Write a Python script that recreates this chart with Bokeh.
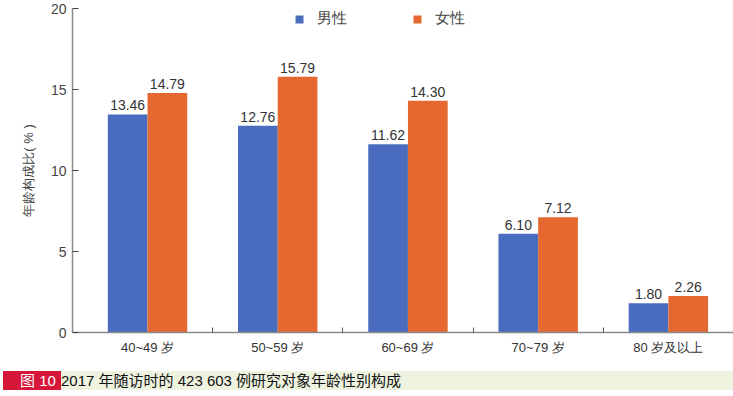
from bokeh.plotting import figure
from bokeh.models import ColumnDataSource, FixedTicker, Range1d, Legend, LegendItem, Div, LabelSet
from bokeh.core.properties import value
from bokeh.layouts import column
from bokeh.embed import file_html
from bokeh.resources import INLINE

categories = ["40~49 岁", "50~59 岁", "60~69 岁", "70~79 岁", "80 岁及以上"]
male = [13.46, 12.76, 11.62, 6.10, 1.80]
female = [14.79, 15.79, 14.30, 7.12, 2.26]
series_names = ["男性", "女性"]
y_ticks = [0, 5, 10, 15, 20]

BLUE = "#4A6CBE"
ORANGE = "#E4682F"
FONT = "Liberation Sans"

centers = [i + 0.5 for i in range(len(categories))]
bw = 0.305
src_m = ColumnDataSource(dict(x=[c - bw / 2 for c in centers], top=male,
                              lab=["%.2f" % v for v in male]))
src_f = ColumnDataSource(dict(x=[c + bw / 2 for c in centers], top=female,
                              lab=["%.2f" % v for v in female]))

p = figure(width=733, height=371, output_backend="svg", toolbar_location=None,
           x_range=Range1d(-0.076, 5.0), y_range=Range1d(0, 20),
           min_border_left=72, min_border_right=0, min_border_top=8, min_border_bottom=39)
p.outline_line_color = None
p.xgrid.visible = False
p.ygrid.visible = False
p.background_fill_color = "white"

rm = p.vbar(x="x", top="top", width=bw, source=src_m, fill_color=BLUE, line_color=None)
rf = p.vbar(x="x", top="top", width=bw, source=src_f, fill_color=ORANGE, line_color=None)

for s in (src_m, src_f):
    p.add_layout(LabelSet(x="x", y="top", text="lab", source=s, text_align="center",
                          text_baseline="bottom", y_offset=4, text_font_size=value("14px"),
                          text_color="#333333", text_font=value(FONT)))

# x axis
p.xaxis.ticker = FixedTicker(ticks=centers, minor_ticks=[1, 2, 3, 4])
p.xaxis.major_label_overrides = {c: categories[i] for i, c in enumerate(centers)}
p.xaxis.major_tick_line_color = None
p.xaxis.major_tick_in = 0
p.xaxis.major_tick_out = 0
p.xaxis.minor_tick_in = 5
p.xaxis.minor_tick_out = 0
p.xaxis.minor_tick_line_color = "#555555"
p.xaxis.axis_line_color = "#8a8a8a"
p.xaxis.axis_line_width = 1.5
p.xaxis.major_label_text_font_size = "13px"
p.xaxis.major_label_text_color = "#333333"
p.xaxis.major_label_text_font = FONT
p.xaxis.major_label_standoff = 7

# y axis
p.yaxis.ticker = FixedTicker(ticks=y_ticks, minor_ticks=[])
p.yaxis.major_tick_in = 6
p.yaxis.major_tick_out = 0
p.yaxis.major_tick_line_color = "#444444"
p.yaxis.minor_tick_line_color = None
p.yaxis.axis_line_color = "#8a8a8a"
p.yaxis.axis_line_width = 1.5
p.yaxis.major_label_text_font_size = "14px"
p.yaxis.major_label_text_color = "#444444"
p.yaxis.major_label_text_font = FONT
p.yaxis.major_label_standoff = 6
p.yaxis.axis_label = "年龄构成比( % )"
p.yaxis.axis_label_text_font_style = "normal"
p.yaxis.axis_label_text_font_size = "13px"
p.yaxis.axis_label_text_color = "#444444"
p.yaxis.axis_label_text_font = FONT
p.yaxis.axis_label_standoff = 12

legend = Legend(items=[LegendItem(label=series_names[0], renderers=[rm]),
                       LegendItem(label=series_names[1], renderers=[rf])],
                orientation="horizontal", location=(222, 304),
                border_line_color=None, background_fill_alpha=0,
                glyph_width=10, glyph_height=10, label_standoff=13, spacing=65,
                padding=0, margin=0, label_text_font_size="15px",
                label_text_color="#444444", label_text_font=FONT)
p.add_layout(legend)

caption = Div(width=733, height=20, margin=(0, 0, 0, 0), text=(
    '<div style="margin-left:3px;width:730px;height:19px;background:#EEF3E0;'
    'font-family:\'Liberation Sans\',\'Noto Sans CJK SC\';font-size:15px;line-height:19px;'
    'color:#111;white-space:nowrap;">'
    '<span style="display:inline-block;box-sizing:border-box;background:#D6173A;color:#fff;'
    'width:58px;padding-left:17px;">图 10</span>'
    '2017 年随访时的 423 603 例研究对象年龄性别构成</div>'))

layout = column(p, caption, spacing=0)
open("out.html", "w").write(file_html(layout, INLINE))
